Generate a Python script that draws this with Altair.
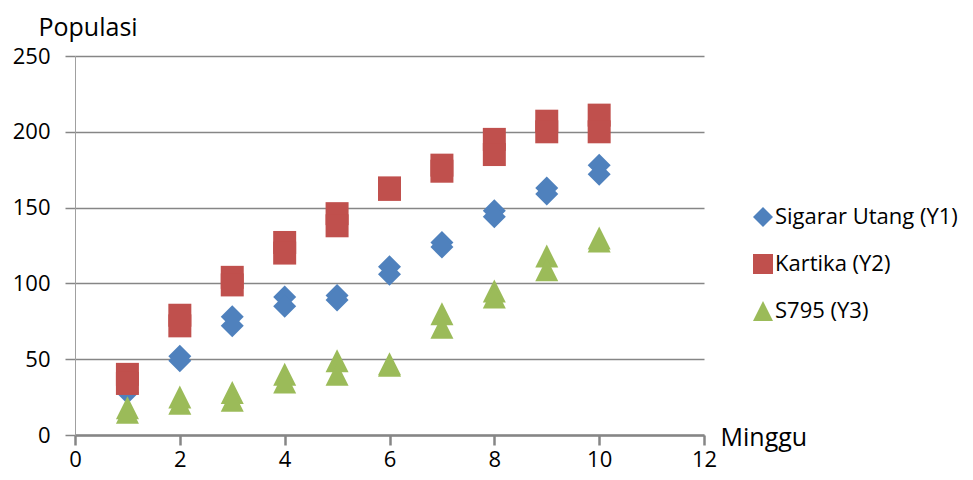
import altair as alt
import pandas as pd

weeks = [1, 2, 3, 4, 5, 6, 7, 8, 9, 10]
series_names = ["Sigarar Utang (Y1)", "Kartika (Y2)", "S795 (Y3)"]
series_colors = ["#4F81BD", "#C0504D", "#9BBB59"]
series_shapes = ["diamond", "square", "M0,-1L1,1L-1,1Z"]

# two observations per week for each variety
y1_a = [35, 52, 78, 91, 92, 111, 127, 148, 163, 178]
y1_b = [28, 49, 72, 85, 89, 106, 124, 144, 159, 172]
y2_a = [40, 79, 104, 127, 146, 163, 178, 195, 207, 211]
y2_b = [34, 72, 99, 120, 138, 162, 174, 185, 200, 200]
y3_a = [18, 25, 28, 40, 49, 47, 80, 95, 118, 130]
y3_b = [15, 21, 23, 35, 40, 46, 71, 91, 109, 128]

rows = []
for name, a, b in [(series_names[0], y1_a, y1_b),
                   (series_names[1], y2_a, y2_b),
                   (series_names[2], y3_a, y3_b)]:
    for w, va, vb in zip(weeks, a, b):
        rows.append({"Minggu": w, "Populasi": va, "Seri": name})
        rows.append({"Minggu": w, "Populasi": vb, "Seri": name})
df = pd.DataFrame(rows)
df["order"] = range(len(df))

FONT = "Open Sans"

chart = alt.Chart(df).mark_point(filled=True, opacity=1, size=529).encode(
    x=alt.X("Minggu:Q",
            scale=alt.Scale(domain=[0, 12], nice=False, zero=False),
            axis=alt.Axis(values=[0, 2, 4, 6, 8, 10, 12], grid=False,
                          title="Minggu", titleAngle=0, titleAlign="left",
                          titleBaseline="alphabetic", titleX=645, titleY=10,
                          titleFont=FONT, titleFontSize=25, titleFontWeight="normal",
                          titleColor="#000000",
                          labelFont=FONT, labelFontSize=22, labelColor="#000000",
                          labelBaseline="alphabetic",
                          labelPadding=21, tickSize=10, tickWidth=2.5, tickColor="#868686",
                          domainColor="#868686", domainWidth=2.5, labelFlush=False)),
    y=alt.Y("Populasi:Q",
            scale=alt.Scale(domain=[0, 250], nice=False),
            axis=alt.Axis(values=[0, 50, 100, 150, 200, 250], grid=True,
                          gridColor="#868686", gridWidth=1.5,
                          title="Populasi", titleAngle=0, titleAlign="left",
                          titleBaseline="alphabetic", titleX=-37, titleY=-21,
                          titleFont=FONT, titleFontSize=25, titleFontWeight="normal",
                          titleColor="#000000",
                          labelFont=FONT, labelFontSize=22, labelColor="#000000",
                          labelPadding=15, tickSize=10, tickWidth=1.5, tickColor="#868686",
                          domainColor="#A0A0A0", domainWidth=1, labelFlush=False)),
    color=alt.Color("Seri:N",
                    scale=alt.Scale(domain=series_names, range=series_colors),
                    legend=alt.Legend(title=None, orient="none", legendX=677, legendY=150,
                                      labelFont=FONT, labelFontSize=22, labelColor="#000000",
                                      labelLimit=0,
                                      symbolSize=400, symbolOpacity=1, symbolStrokeWidth=0,
                                      rowPadding=25, labelOffset=1, padding=0)),
    shape=alt.Shape("Seri:N",
                    scale=alt.Scale(domain=series_names, range=series_shapes)),
    order=alt.Order("order:Q"),
).properties(
    width=629, height=379,
    autosize=alt.AutoSizeParams(type="none"),
    padding={"left": 67, "top": 48, "right": 261, "bottom": 37},
).configure_view(stroke=None).configure_axis(labelFontWeight="normal")

chart.save("out.html", embed_options={"renderer": "svg", "actions": False})
